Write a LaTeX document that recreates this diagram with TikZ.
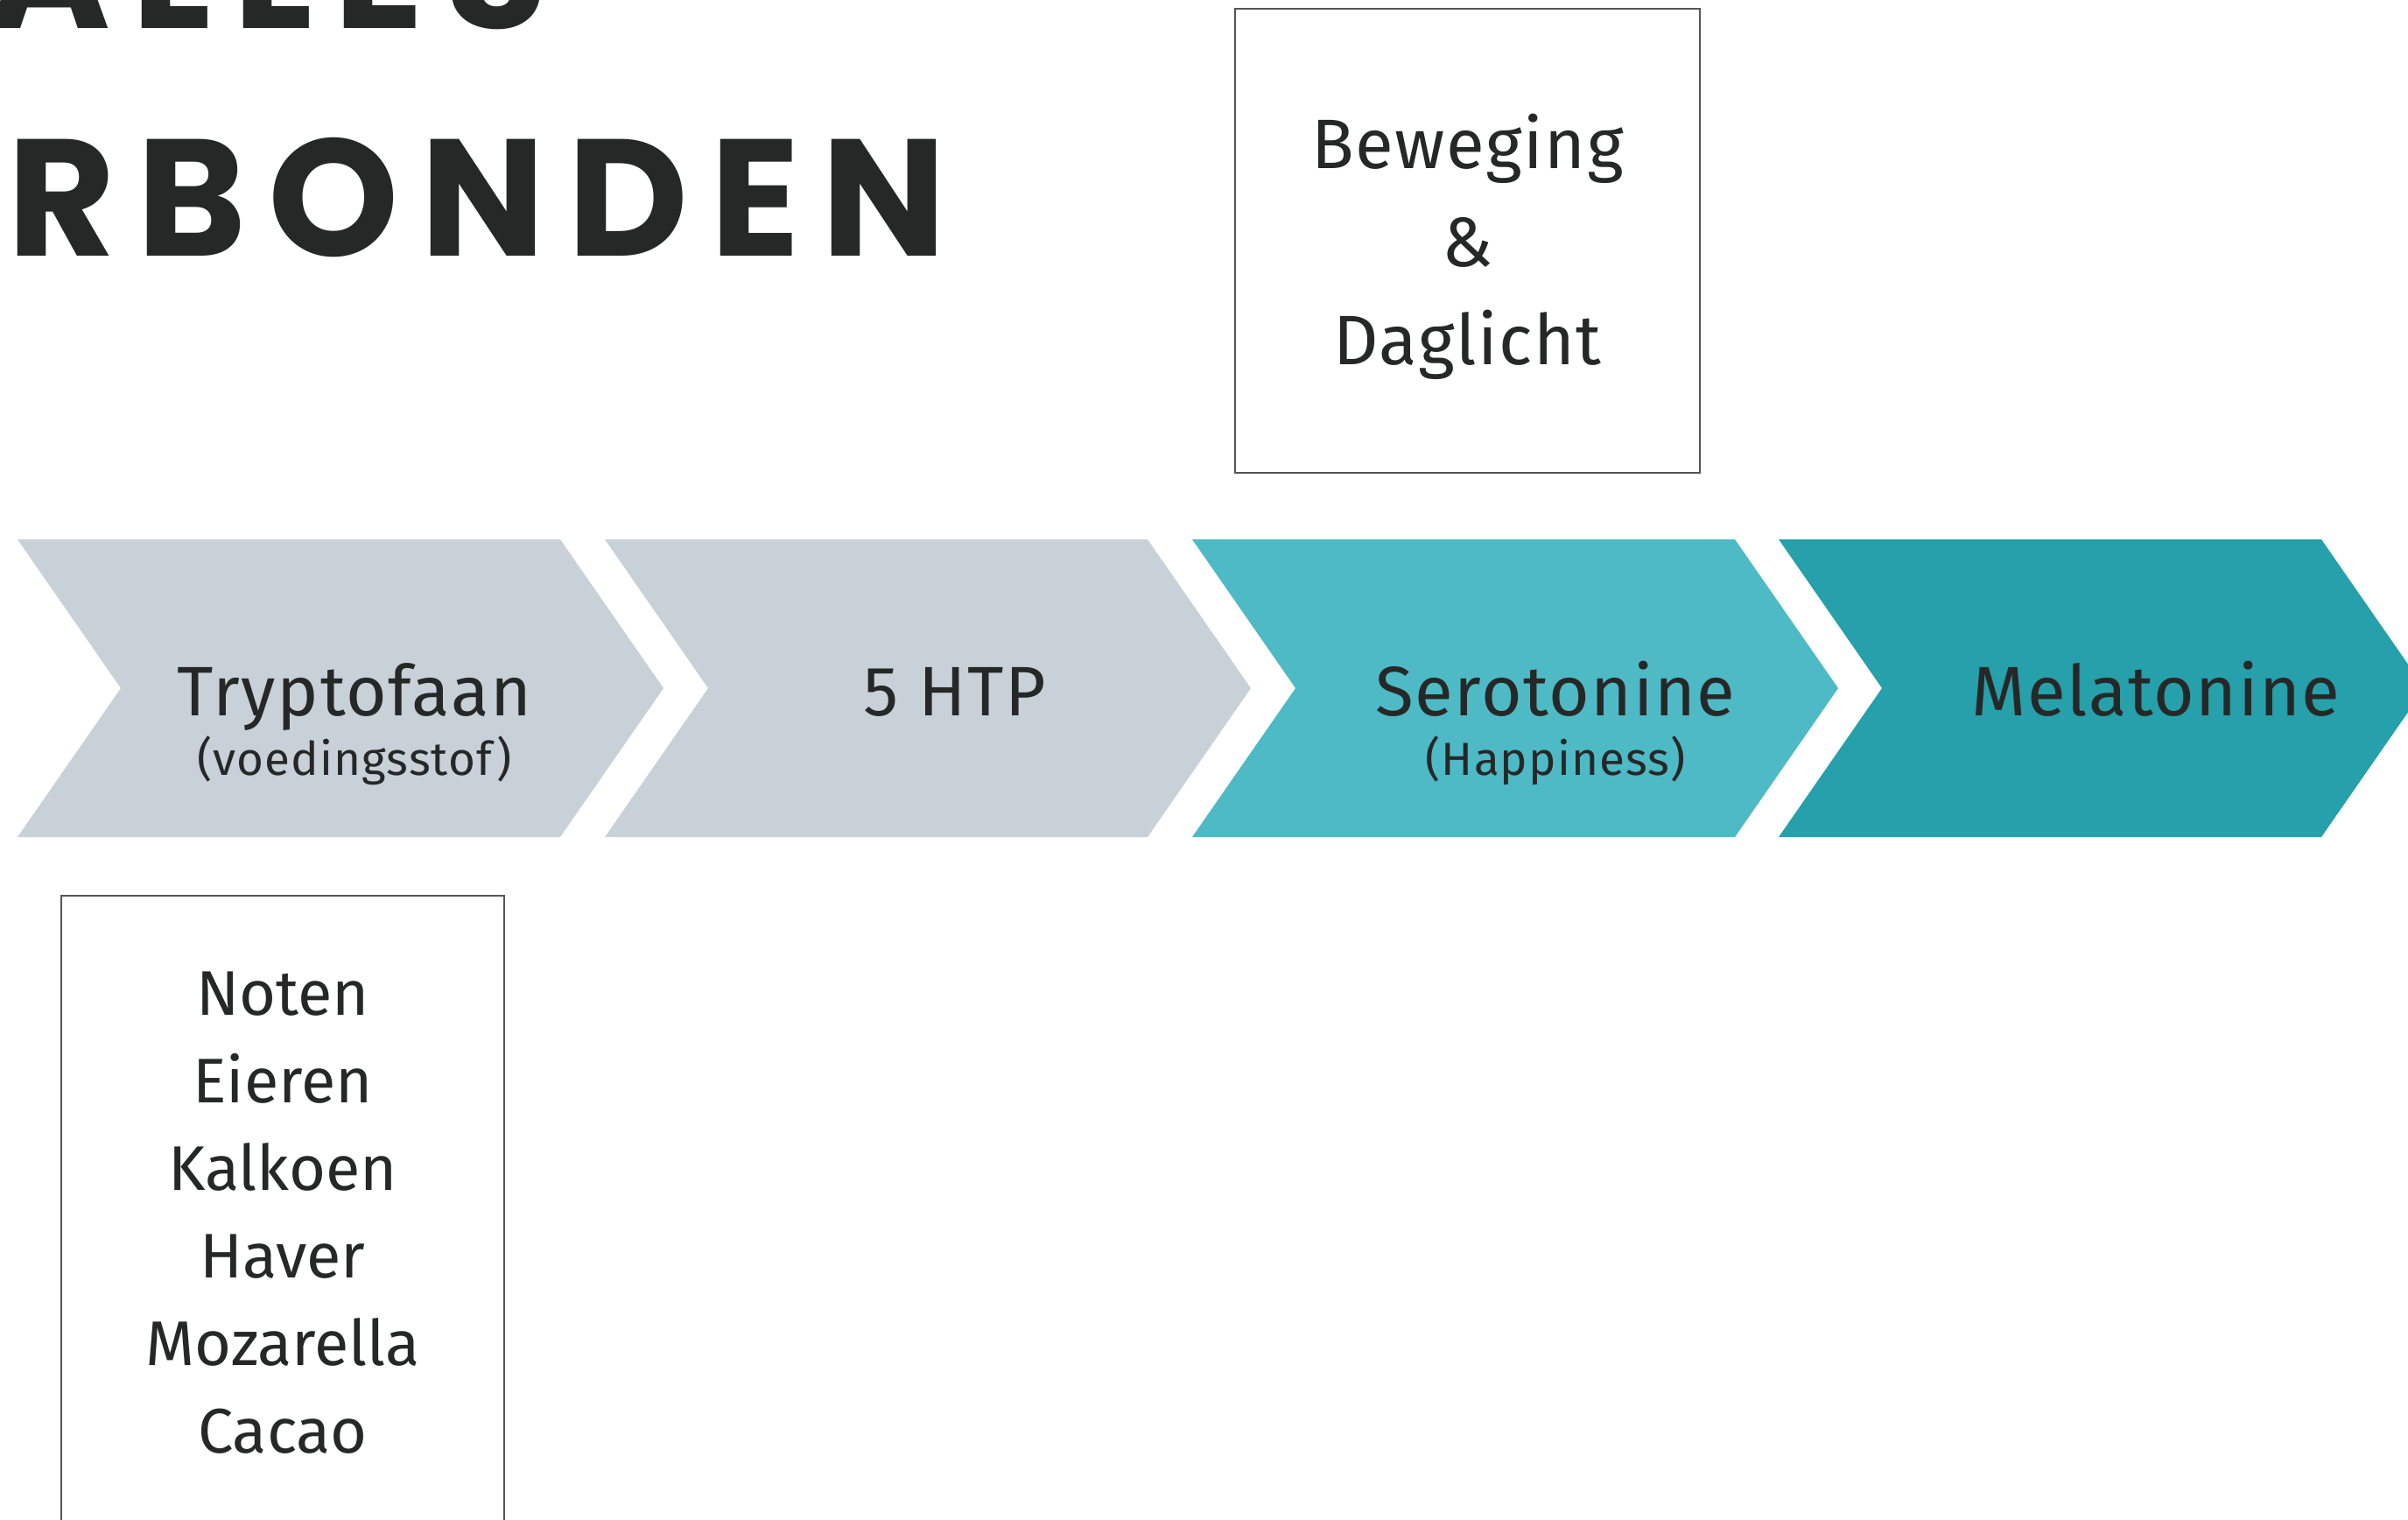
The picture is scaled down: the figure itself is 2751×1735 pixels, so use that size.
\documentclass[tikz,border=0pt]{standalone}
\usepackage{fontspec}
\setmainfont{Fira Sans}
\newfontfamily\titlefont{Poppins}[LetterSpace=13]
\newfontfamily\lblfont{Fira Sans}[LetterSpace=2]
\definecolor{ink}{HTML}{262828}
\definecolor{chevgray}{HTML}{C8D1D8}
\definecolor{chevlight}{HTML}{4EBAC5}
\definecolor{chevdark}{HTML}{26A0AA}
\definecolor{boxline}{HTML}{555555}
\begin{document}
\begin{tikzpicture}[x=1pt,y=-1pt,
  lbl/.style={inner sep=0pt, text=ink, font=\lblfont\fontsize{80}{96}\selectfont},
  sublbl/.style={inner sep=0pt, text=ink, font=\lblfont\fontsize{53}{60}\selectfont},
  titletxt/.style={inner sep=0pt, text=ink, font=\titlefont\bfseries\fontsize{190}{190}\selectfont},
  framebox/.style={draw=boxline, line width=1.5pt, fill=white}]
\clip (0,0) rectangle (2751,1735);
\fill[white] (0,0) rectangle (2751,1735);
% chevrons
\fill[chevgray]  (20,616)   -- ++(620,0) -- ++(118,170) -- ++(-118,170) -- ++(-620,0) -- ++(118,-170) -- cycle;
\fill[chevgray]  (691,616)  -- ++(620,0) -- ++(118,170) -- ++(-118,170) -- ++(-620,0) -- ++(118,-170) -- cycle;
\fill[chevlight] (1362,616) -- ++(620,0) -- ++(118,170) -- ++(-118,170) -- ++(-620,0) -- ++(118,-170) -- cycle;
\fill[chevdark]  (2032,616) -- ++(620,0) -- ++(118,170) -- ++(-118,170) -- ++(-620,0) -- ++(118,-170) -- cycle;
% chevron labels
\node[lbl, anchor=base] (tryp) at (405,817) {Tryptofaan};
\node[sublbl, anchor=base] (tryps) at (405,885) {(voedingsstof)};
\node[lbl, anchor=base] (htp) at (1091,817) {5 HTP};
\node[lbl, anchor=base] (sero) at (1777,817) {Serotonine};
\node[sublbl, anchor=base] (seros) at (1777,885) {(Happiness)};
\node[lbl, anchor=base] (mela) at (2463,817) {Melatonine};
% top box
\node[framebox, minimum width=531pt, minimum height=530pt] (bewbox) at (1676.5,275) {};
\node[inner sep=0pt, align=center, text=ink, font=\lblfont\fontsize{80}{112}\selectfont]
  (bew) at (1676.5,282) {Beweging\\\&\\Daglicht};
% food box
\node[framebox, minimum width=506pt, minimum height=800pt, anchor=north] (foodbox) at (323,1022) {};
\node[inner sep=0pt, align=center, text=ink, font=\fontsize{72}{100}\selectfont] (food) at (323,1385)
  {Noten\\Eieren\\Kalkoen\\Haver\\Mozarella\\Cacao};
% title
\node[titletxt, anchor=base west] (t2) at (8,292) {RBONDEN};
\node[titletxt, anchor=base east] (t1) at (626,32) {ALLES};
\end{tikzpicture}
\end{document}
